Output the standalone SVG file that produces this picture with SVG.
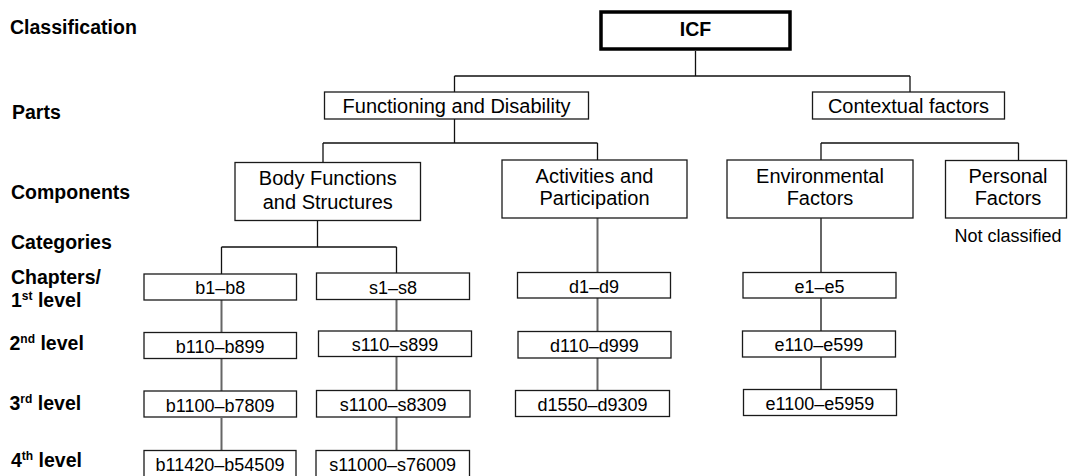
<svg xmlns="http://www.w3.org/2000/svg" width="1068" height="476" viewBox="0 0 1068 476">
<style>
.bg{fill:#fff}
.box{fill:#fff;stroke:#1a1a1a;stroke-width:1.3}
.root{fill:#fff;stroke:#000;stroke-width:3.5}
.t{font-family:"Liberation Sans",Arial,sans-serif;font-size:20px;fill:#000;text-anchor:middle}
.s{font-family:"Liberation Sans",Arial,sans-serif;font-size:18px;fill:#000;text-anchor:middle}
.lb{font-family:"Liberation Sans",Arial,sans-serif;font-size:19.5px;font-weight:bold;fill:#000}
.sup{font-size:12px}
.c1{stroke:#111;stroke-width:1.3;fill:none}
.c2{stroke:#666;stroke-width:2;fill:none}
</style>
<rect class="bg" x="0" y="0" width="1068" height="476"/>
<g id="labels">
<text class="lb" x="10" y="33.5">Classification</text>
<text class="lb" x="12" y="118.5">Parts</text>
<text class="lb" x="11" y="198.5">Components</text>
<text class="lb" x="11" y="248.5">Categories</text>
<text class="lb" x="11" y="283.5">Chapters/</text>
<text class="lb" x="11" y="307">1<tspan class="sup" dy="-7">st</tspan><tspan dy="7"> level</tspan></text>
<text class="lb" x="9.5" y="349.5">2<tspan class="sup" dy="-7">nd</tspan><tspan dy="7"> level</tspan></text>
<text class="lb" x="9.5" y="409.5">3<tspan class="sup" dy="-7">rd</tspan><tspan dy="7"> level</tspan></text>
<text class="lb" x="11" y="467">4<tspan class="sup" dy="-7">th</tspan><tspan dy="7"> level</tspan></text>
</g>
<g id="connectors">
<path class="c1" d="M695.5 51V76M454.5 76H910M454.5 76V92M910 76V92"/>
<path class="c1" d="M454.5 119V143M323 143H597.5M323 143V162M597.5 143V160"/>
<path class="c1" d="M821 143H1018.5M821 143V160M1018.5 143V160.5"/>
<path class="c1" d="M317.5 220.5V247M221.5 247H396.5M221.5 247V274M396.5 247V273"/>
<path class="c2" d="M221.5 300V332.5M221.5 358.5V391M221.5 418V450"/>
<path class="c2" d="M396.5 299.5V331M396.5 356.5V390.5M396.5 417V450"/>
<path class="c2" d="M597.5 218V272.5M597.5 298V331.5M597.5 358V390.5"/>
<path class="c2" d="M821 218V272.5M821 298V331M821 357V389.5"/>
</g>
<g id="icf"><rect class="root" x="601" y="12" width="189" height="37"/><text class="lb" x="695.5" y="35.5" text-anchor="middle" font-size="19">ICF</text></g>
<g id="functioning"><rect class="box" x="324.5" y="92" width="264" height="27"/><text class="t" x="456.5" y="113">Functioning and Disability</text></g>
<g id="contextual"><rect class="box" x="812.5" y="92" width="192" height="27"/><text class="t" x="908.5" y="113">Contextual factors</text></g>
<g id="body"><rect class="box" x="235" y="162.5" width="185.5" height="58"/><text class="t" x="327.8" y="185">Body Functions</text><text class="t" x="327.8" y="209">and Structures</text></g>
<g id="activities"><rect class="box" x="502" y="160" width="185" height="58"/><text class="t" x="594.5" y="183">Activities and</text><text class="t" x="594.5" y="205">Participation</text></g>
<g id="environmental"><rect class="box" x="727" y="160" width="186" height="58"/><text class="t" x="820" y="183">Environmental</text><text class="t" x="820" y="205">Factors</text></g>
<g id="personal"><rect class="box" x="945.5" y="160.5" width="121" height="57.5"/><text class="t" x="1008" y="183">Personal</text><text class="t" x="1008" y="205">Factors</text></g>
<g id="notclassified"><text class="s" x="1008" y="241.5">Not classified</text></g>
<g id="b1"><rect class="box" x="144" y="274" width="152.5" height="26"/><text class="s" x="220.2" y="294">b1–b8</text></g>
<g id="s1"><rect class="box" x="316.5" y="273" width="153" height="26.5"/><text class="s" x="393" y="293.5">s1–s8</text></g>
<g id="d1"><rect class="box" x="517.5" y="272.5" width="153" height="25.5"/><text class="s" x="594" y="292.5">d1–d9</text></g>
<g id="e1"><rect class="box" x="743" y="272.5" width="153" height="25.5"/><text class="s" x="819.5" y="292.5">e1–e5</text></g>
<g id="b2"><rect class="box" x="144" y="332.5" width="152.5" height="26"/><text class="s" x="220.2" y="353">b110–b899</text></g>
<g id="s2"><rect class="box" x="318.5" y="331" width="153" height="25.5"/><text class="s" x="395" y="351">s110–s899</text></g>
<g id="d2"><rect class="box" x="518" y="331.5" width="153" height="26.5"/><text class="s" x="594.5" y="352">d110–d999</text></g>
<g id="e2"><rect class="box" x="742.5" y="331" width="153" height="26"/><text class="s" x="819" y="351">e110–e599</text></g>
<g id="b3"><rect class="box" x="144" y="391" width="152.5" height="26"/><text class="s" x="220.2" y="411.5">b1100–b7809</text></g>
<g id="s3"><rect class="box" x="316.5" y="390.5" width="153.5" height="26.5"/><text class="s" x="393.2" y="411">s1100–s8309</text></g>
<g id="d3"><rect class="box" x="515.5" y="390.5" width="154" height="26"/><text class="s" x="592.5" y="411">d1550–d9309</text></g>
<g id="e3"><rect class="box" x="743.5" y="389.5" width="153" height="26"/><text class="s" x="820" y="410">e1100–e5959</text></g>
<g id="b4"><rect class="box" x="144" y="450.5" width="152" height="28"/><text class="s" x="220" y="470.5">b11420–b54509</text></g>
<g id="s4"><rect class="box" x="316" y="450.5" width="153.5" height="28"/><text class="s" x="392.7" y="470.5">s11000–s76009</text></g>
</svg>
